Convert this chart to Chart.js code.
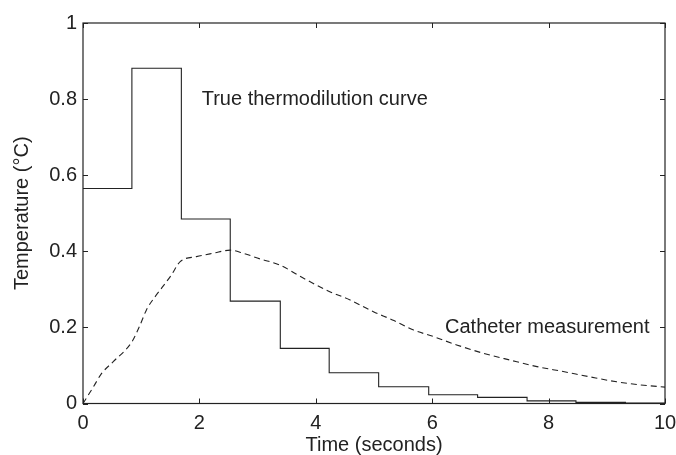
<!DOCTYPE html>
<html>
<head>
<meta charset="utf-8">
<script src="https://cdn.jsdelivr.net/npm/chart.js@4/dist/chart.umd.min.js"></script>
<style>
  html, body { margin: 0; padding: 0; background: #fff; }
  #wrap { width: 676px; height: 455px; position: relative; }
</style>
</head>
<body>
<div id="wrap"><canvas id="c" width="676" height="455"></canvas></div>
<script>
// True thermodilution curve (step function): value holds from each time onward
const stepTimes  = [0, 0.84, 1.69, 2.53, 3.39, 4.23, 5.08, 5.94, 6.78, 7.63, 8.47, 9.32, 10];
const stepValues = [0.565, 0.881, 0.485, 0.269, 0.145, 0.081, 0.044, 0.023, 0.016, 0.007, 0.003, 0.001, 0.001];

// Catheter measurement (dashed)
const cathTimes  = [0, 0.18, 0.32, 0.52, 0.84, 0.98, 1.09, 1.24, 1.38, 1.52, 1.67, 1.95, 2.24, 2.53, 2.75, 3.04, 3.38, 3.79, 4.24, 4.59, 4.99, 5.33, 5.68, 6.02, 6.42, 6.88, 7.34, 7.80, 8.25, 8.71, 9.17, 9.57, 10];
const cathValues = [0, 0.044, 0.079, 0.11, 0.162, 0.206, 0.246, 0.281, 0.309, 0.338, 0.373, 0.386, 0.395, 0.403, 0.395, 0.38, 0.364, 0.329, 0.294, 0.272, 0.241, 0.219, 0.193, 0.176, 0.154, 0.132, 0.114, 0.097, 0.084, 0.070, 0.057, 0.049, 0.043];

const xTicks = [0, 2, 4, 6, 8, 10];
const yTicks = [0, 0.2, 0.4, 0.6, 0.8, 1];
const yTickLabels = ['0', '0.2', '0.4', '0.6', '0.8', '1'];

const annotations = [
  { text: 'True thermodilution curve', x: 2.04, y: 0.798 },
  { text: 'Catheter measurement', x: 6.22, y: 0.201 }
];

const FONT = '"Liberation Sans", Arial, Helvetica, sans-serif';
const INK = '#222';

const framePlugin = {
  id: 'frame',
  afterDraw(chart) {
    const { ctx, chartArea: a, scales } = chart;
    const xs = scales.x, ys = scales.y;
    ctx.save();
    ctx.strokeStyle = INK;
    ctx.lineWidth = 1.2;
    ctx.strokeRect(a.left, a.top, a.right - a.left, a.bottom - a.top);
    ctx.lineWidth = 1;
    const tl = 5;
    ctx.beginPath();
    xTicks.forEach(v => {
      const px = Math.round(xs.getPixelForValue(v)) + 0.5;
      ctx.moveTo(px, a.bottom); ctx.lineTo(px, a.bottom - tl);
      ctx.moveTo(px, a.top); ctx.lineTo(px, a.top + tl);
    });
    yTicks.forEach(v => {
      const py = Math.round(ys.getPixelForValue(v)) + 0.5;
      ctx.moveTo(a.left, py); ctx.lineTo(a.left + tl, py);
      ctx.moveTo(a.right, py); ctx.lineTo(a.right - tl, py);
    });
    ctx.stroke();
    ctx.fillStyle = INK;
    ctx.font = '20px ' + FONT;
    ctx.textAlign = 'left';
    ctx.textBaseline = 'middle';
    annotations.forEach(an => {
      ctx.fillText(an.text, xs.getPixelForValue(an.x), ys.getPixelForValue(an.y));
    });
    ctx.restore();
  }
};

new Chart(document.getElementById('c'), {
  type: 'line',
  data: {
    datasets: [
      {
        label: 'True thermodilution curve',
        data: stepTimes.map((t, i) => ({ x: t, y: stepValues[i] })),
        stepped: 'before',
        borderColor: INK,
        borderWidth: 1.1,
        pointRadius: 0,
        fill: false
      },
      {
        label: 'Catheter measurement',
        data: cathTimes.map((t, i) => ({ x: t, y: cathValues[i] })),
        borderColor: INK,
        borderWidth: 1.1,
        borderDash: [6, 4],
        cubicInterpolationMode: 'monotone',
        pointRadius: 0,
        fill: false
      }
    ]
  },
  options: {
    responsive: false,
    animation: false,
    devicePixelRatio: 1,
    layout: { padding: { top: 23, right: 11, left: 0, bottom: 0 } },
    plugins: { legend: { display: false }, tooltip: { enabled: false } },
    scales: {
      x: {
        type: 'linear', min: 0, max: 10,
        afterBuildTicks: s => { s.ticks = xTicks.map(v => ({ value: v })); },
        afterFit: s => { s.height = 51.5; s.paddingLeft = 0; s.paddingRight = 0; },
        grid: { display: false, drawTicks: false },
        border: { display: false },
        ticks: { color: INK, font: { family: FONT, size: 20 }, padding: 8, maxRotation: 0,
                 callback: v => String(v) },
        title: { display: true, text: 'Time (seconds)', color: INK,
                 font: { family: FONT, size: 20, lineHeight: 1 }, padding: { top: 0, bottom: 0 } }
      },
      y: {
        type: 'linear', min: 0, max: 1,
        afterBuildTicks: s => { s.ticks = yTicks.map(v => ({ value: v })); },
        afterFit: s => { s.width = 83; s.paddingTop = 0; s.paddingBottom = 0; },
        grid: { display: false, drawTicks: false },
        border: { display: false },
        ticks: { color: INK, font: { family: FONT, size: 20 }, padding: 6,
                 callback: (v, i) => yTickLabels[i] },
        title: { display: true, text: 'Temperature (°C)', color: INK,
                 font: { family: FONT, size: 20, lineHeight: 1 }, padding: { top: 12, bottom: 0 } }
      }
    }
  },
  plugins: [framePlugin]
});
</script>
</body>
</html>
